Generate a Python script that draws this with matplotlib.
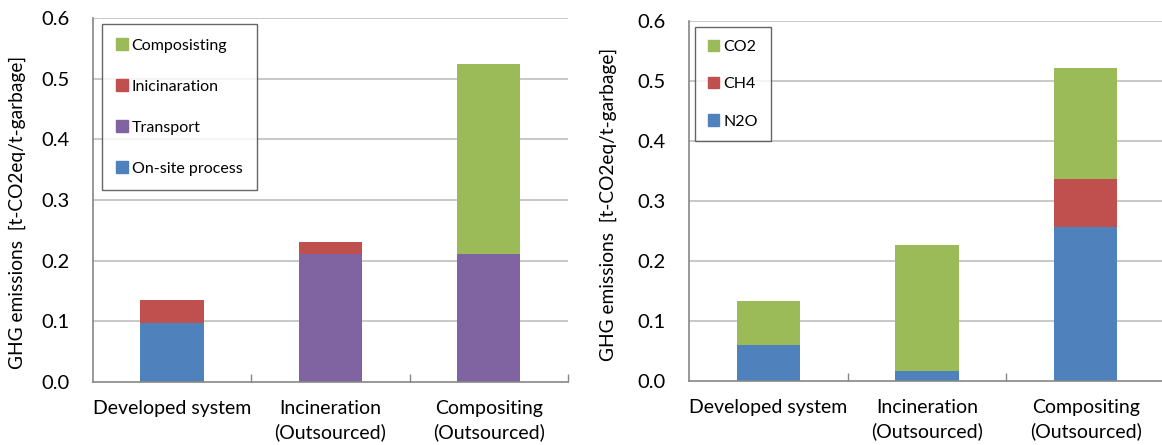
import numpy as np
import matplotlib
matplotlib.use('Agg')
import matplotlib.pyplot as plt
from matplotlib.patches import Patch

plt.rcParams['font.family'] = ['Lato', 'DejaVu Sans']

blue = '#4f81bd'
red = '#c0504d'
green = '#9bbb59'
purple = '#8064a2'
grid_grey = '#bfbfbf'
axis_grey = '#868686'

categories = ['Developed system', 'Incineration\n(Outsourced)', 'Compositing\n(Outsourced)']

# left chart: by process
onsite = [0.097, 0.0, 0.0]
transport = [0.0, 0.211, 0.211]
incineration = [0.038, 0.019, 0.0]
composting = [0.0, 0.0, 0.313]
process_labels = ['On-site process', 'Transport', 'Inicinaration', 'Composisting']

# right chart: by gas
n2o = [0.060, 0.017, 0.256]
ch4 = [0.0, 0.0, 0.081]
co2 = [0.073, 0.210, 0.185]
gas_labels = ['N2O', 'CH4', 'CO2']

yticks = [0.0, 0.1, 0.2, 0.3, 0.4, 0.5, 0.6]
ylab = 'GHG emissions  [t-CO2eq/t-garbage]'


def setup_axis(ax):
    ax.set_xlim(-0.5, 2.5)
    ax.set_ylim(0, 0.6)
    ax.set_yticks(yticks)
    ax.set_yticklabels(['{0:.1f}'.format(v) for v in yticks])
    for v in yticks[1:]:
        ax.axhline(v, color=grid_grey, linewidth=1.2, zorder=0)
    ax.set_xticks(np.arange(len(categories)))
    ax.set_xticklabels(categories, fontsize=14, linespacing=1.4, va='top')
    ax.set_xticks([0.5, 1.5, 2.5], minor=True)
    ax.tick_params(axis='x', which='major', length=0, pad=13)
    ax.tick_params(axis='x', which='minor', length=6, direction='in', color=axis_grey, width=1)
    ax.tick_params(axis='y', length=0, pad=17, labelsize=14.5)
    for s in ['top', 'right']:
        ax.spines[s].set_visible(False)
    for s in ['left', 'bottom']:
        ax.spines[s].set_color(axis_grey)
        ax.spines[s].set_linewidth(1.2)
    ax.set_ylabel(ylab, fontsize=13.8)


def stack(ax, series, colors):
    x = np.arange(len(categories))
    bottom = np.zeros(len(categories))
    for vals, c in zip(series, colors):
        ax.bar(x, vals, width=0.4, bottom=bottom, color=c, zorder=2)
        bottom = bottom + np.array(vals)


fig = plt.figure(figsize=(11.62, 4.45), dpi=100)
ax1 = fig.add_axes([0.0800, 0.1416, 0.4088, 0.8180])
ax2 = fig.add_axes([0.5929, 0.1438, 0.4096, 0.8090])

setup_axis(ax1)
stack(ax1, [onsite, transport, incineration, composting], [blue, purple, red, green])
ax1.yaxis.set_label_coords(-0.141, 0.465)
h1 = [Patch(color=c) for c in [green, red, purple, blue]]
leg1 = fig.legend(h1, process_labels[::-1], loc='upper left',
                  bbox_to_anchor=(102 / 1162, 1 - 24 / 445), bbox_transform=fig.transFigure,
                  borderaxespad=0, fancybox=False, edgecolor='#404040', fontsize=11.5,
                  handlelength=0.7, handleheight=0.7, handletextpad=0.25,
                  labelspacing=1.68, borderpad=0.9)
leg1.get_frame().set_linewidth(1.0)

setup_axis(ax2)
stack(ax2, [n2o, ch4, co2], [blue, red, green])
ax2.yaxis.set_label_coords(-0.151, 0.49)
h2 = [Patch(color=c) for c in [green, red, blue]]
leg2 = fig.legend(h2, gas_labels[::-1], loc='upper left',
                  bbox_to_anchor=(695 / 1162, 1 - 27 / 445), bbox_transform=fig.transFigure,
                  borderaxespad=0, fancybox=False, edgecolor='#404040', fontsize=11.5,
                  handlelength=0.7, handleheight=0.7, handletextpad=0.3,
                  labelspacing=1.45, borderpad=0.8)
leg2.get_frame().set_linewidth(1.0)

fig.savefig('out.png', dpi=100)
